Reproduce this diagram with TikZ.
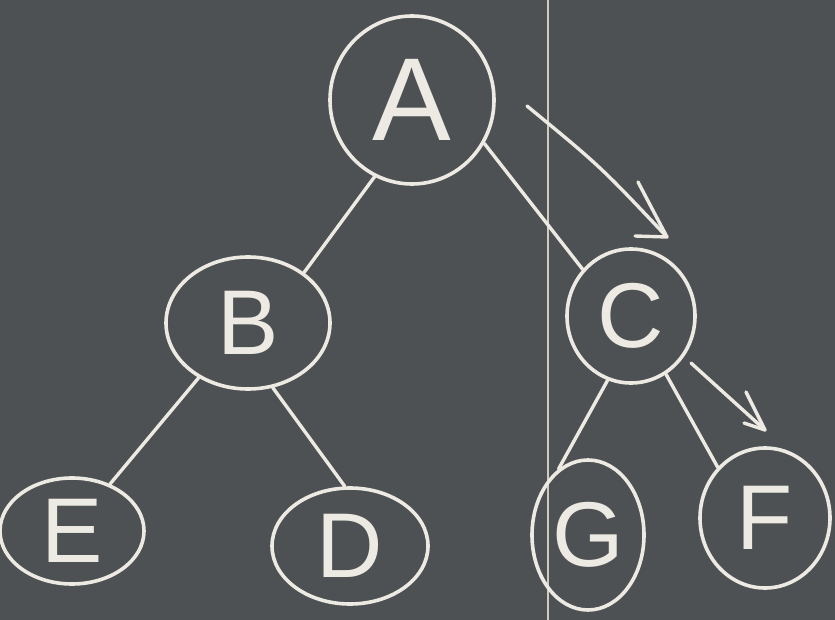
\documentclass[tikz,border=0pt]{standalone}
\usepackage{fontspec}
\setmainfont{Liberation Sans}
\usetikzlibrary{shapes.geometric}
\definecolor{board}{HTML}{4E5153}
\definecolor{chalk}{HTML}{ECEAE2}
\definecolor{seam}{HTML}{CFCCBE}
\begin{document}
\begin{tikzpicture}[x=1pt,y=-1pt,
  vertex/.style={ellipse,draw=chalk,line width=3.6pt,text=chalk,inner sep=0pt,font=\fontsize{92}{92}\selectfont},
  big/.style={font=\fontsize{118}{118}\selectfont},
  edge/.style={draw=chalk,line width=3.4pt,line cap=round},
  arm/.style={draw=chalk,line width=3.4pt,line cap=round,line join=round}]
\fill[board] (0,0) rectangle (835,620);
\useasboundingbox (0,0) rectangle (835,620);
% board seam
\coordinate (s1) at (548,0);
\coordinate (s2) at (548,620);
\draw[seam,line width=2.4pt] (s1) -- (s2);
% nodes
\node[vertex,big,minimum width=164pt,minimum height=168pt] (A) at (412,100) {A};
\node[vertex,minimum width=164pt,minimum height=132pt] (B) at (248,323) {B};
\node[vertex,minimum width=128pt,minimum height=134pt] (C) at (631,316) {C};
\node[vertex,minimum width=144pt,minimum height=106pt] (E) at (72,531) {E};
\node[vertex,minimum width=156pt,minimum height=116pt] (D) at (350,546) {D};
\node[vertex,minimum width=112pt,minimum height=150pt] (G) at (588,535) {G};
\node[vertex,minimum width=130pt,minimum height=140pt] (F) at (765,518) {F};
% edges
\draw[edge] (A.244) -- (B.42);
\draw[edge] (A.329) -- (C.136);
\draw[edge] (B.228) -- (E.51);
\draw[edge] (B.291) -- (D.95);
\draw[edge] (C.250) -- (G.114);
\draw[edge] (C.301) -- (F.133);
% traversal arrows
\coordinate (a1s) at (527,106);
\coordinate (a1t) at (667,237);
\coordinate (a1u) at (638,182);
\coordinate (a1l) at (635,236);
\draw[edge] (a1s) .. controls (600,166) .. (a1t);
\draw[arm] (a1u) -- (a1t) -- (a1l);
\coordinate (a2s) at (691,363);
\coordinate (a2t) at (765,430);
\coordinate (a2u) at (746,392);
\coordinate (a2l) at (744,423);
\draw[edge] (a2s) -- (a2t);
\draw[arm] (a2u) -- (a2t) -- (a2l);
\end{tikzpicture}
\end{document}
